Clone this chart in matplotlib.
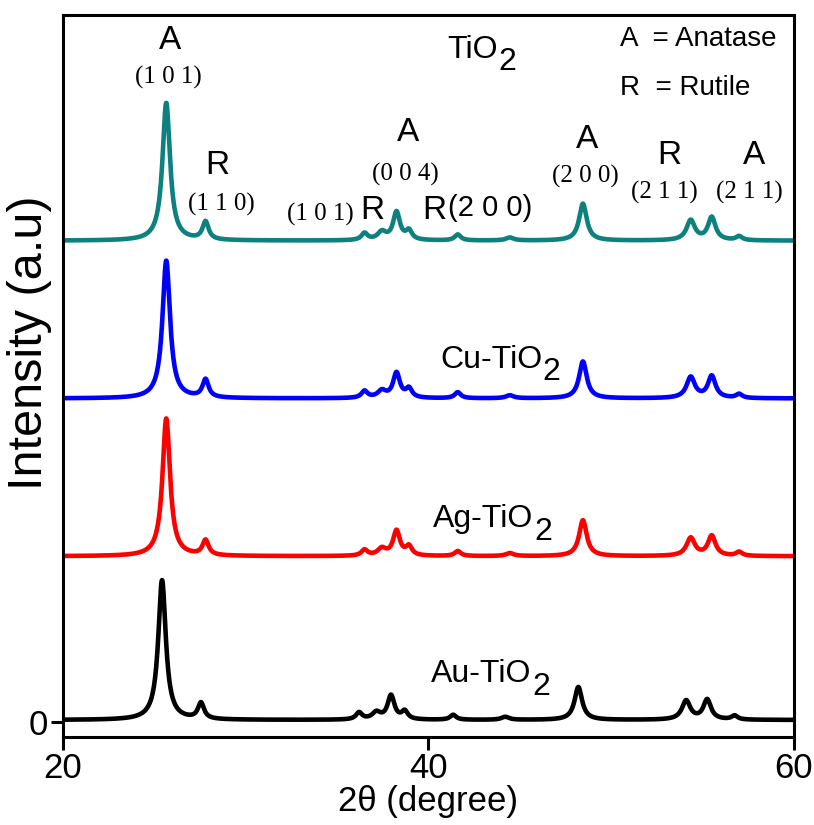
import numpy as np
import matplotlib.pyplot as plt

# ---------- 字型設定 ----------
plt.rcParams['font.family'] = ['Liberation Sans', 'DejaVu Sans']
plt.rcParams['mathtext.fontset'] = 'custom'
plt.rcParams['mathtext.rm'] = 'Liberation Serif'

# ---------- 資料（由圖上讀取的峰位、峰高） ----------
two_theta = np.arange(20, 60.001, 0.02)

# TiO2 / Cu / Ag 峰位（2θ）
peak_pos = [25.65, 27.8, 36.5, 37.45, 38.25, 38.93, 41.6, 44.45, 48.45, 54.35, 55.5, 57.0]
# Au-TiO2 峰位略往低角度偏移
peak_pos_au = [25.42, 27.55, 36.2, 37.15, 37.95, 38.7, 41.35, 44.2, 48.2, 54.1, 55.25, 56.75]
peak_fwhm = [0.50, 0.40, 0.40, 0.55, 0.45, 0.40, 0.40, 0.50, 0.50, 0.55, 0.50, 0.40]

height_tio2 = [138, 18, 7, 8, 28, 9, 6, 3, 37, 20, 23, 4]
height_cu   = [138, 18, 7, 7, 25, 9, 6, 3, 37, 21, 22, 4]
height_ag   = [138, 15, 6, 7, 25, 9, 5, 3, 36, 18, 20, 4]
height_au   = [140, 16, 7, 7, 24, 8, 5, 3, 33, 19, 20, 4]

offset_tio2, offset_cu, offset_ag, offset_au = 482, 324, 166, 2

colors = {"TiO2": "#0d8080", "Cu": "#0000ff", "Ag": "#ff0000", "Au": "#000000"}


def xrd_curve(pos, heights, offset):
    """以 Lorentz 峰疊加出繞射圖形。"""
    y = np.full_like(two_theta, float(offset))
    for c, h, w in zip(pos, heights, peak_fwhm):
        g = w / 2
        y += h * g ** 2 / ((two_theta - c) ** 2 + g ** 2)
    return y


fig = plt.figure(figsize=(8.14, 8.25), dpi=100)
ax = fig.add_axes([0.0774, 0.1067, 0.898, 0.8751])

lw = 3.3
ax.plot(two_theta, xrd_curve(peak_pos, height_tio2, offset_tio2), color=colors["TiO2"], lw=lw)
ax.plot(two_theta, xrd_curve(peak_pos, height_cu, offset_cu), color=colors["Cu"], lw=lw)
ax.plot(two_theta, xrd_curve(peak_pos, height_ag, offset_ag), color=colors["Ag"], lw=lw)
ax.plot(two_theta, xrd_curve(peak_pos_au, height_au, offset_au), color=colors["Au"], lw=lw)

ax.set_xlim(20, 60)
ax.set_ylim(-15, 708)
ax.set_xticks([20, 40, 60])
ax.set_yticks([0])
ax.tick_params(axis='both', direction='out', length=9, width=2.2, labelsize=25, pad=2)
for s in ax.spines.values():
    s.set_linewidth(2.2)

ax.set_xlabel("2θ (degree)", fontsize=25, labelpad=0)
fig.text(0.036, 0.585, "Intensity (a.u)", fontsize=35, rotation=90, ha='center', va='center')

# ---------- 峰的標記 ----------
letter_labels = [("A", 25.85, 682), ("R", 28.43, 557), ("R", 36.91, 512), ("A", 38.88, 590),
                 ("R", 40.30, 512), ("A", 48.67, 583), ("R", 53.16, 567), ("A", 57.81, 567)]
hkl_labels = [("(1 0 1)", 25.75, 645), ("(1 1 0)", 28.65, 518), ("(1 0 1)", 34.06, 508),
              ("(0 0 4)", 38.71, 548), ("(2 0 0)", 48.56, 546), ("(2 1 1)", 52.89, 530),
              ("(2 1 1)", 57.54, 530)]

for s, x, y in letter_labels:
    ax.text(x, y, s, fontsize=24, ha='center', va='center')
for s, x, y in hkl_labels:
    ax.text(x, y, s, fontsize=18, ha='center', va='center', family='Liberation Serif')
ax.text(43.4, 515, "(2 0 0)", fontsize=21, ha='center', va='center')

# 圖例文字
ax.text(50.48, 684, "A  = Anatase", fontsize=20, ha='left', va='center')
ax.text(50.48, 635, "R  = Rutile", fontsize=20, ha='left', va='center')

# ---------- 樣品名稱（含下標 2） ----------
renderer = fig.canvas.get_renderer()


def label_sub(x, y, base, sub, size=23):
    t = ax.text(x, y, base, fontsize=size, ha='left', va='baseline')
    bb = t.get_window_extent(renderer=renderer)
    x1 = ax.transData.inverted().transform((bb.x1, 0))[0]
    ax.annotate(sub, xy=(x1, y), xycoords='data', xytext=(0.5, -9), textcoords='offset points',
                fontsize=size, ha='left', va='baseline')


label_sub(41.01, 665, "TiO", "2")
label_sub(40.63, 355, "Cu-TiO", "2")
label_sub(40.25, 195, "Ag-TiO", "2")
label_sub(40.15, 40, "Au-TiO", "2")

fig.savefig("out.png", dpi=100)
